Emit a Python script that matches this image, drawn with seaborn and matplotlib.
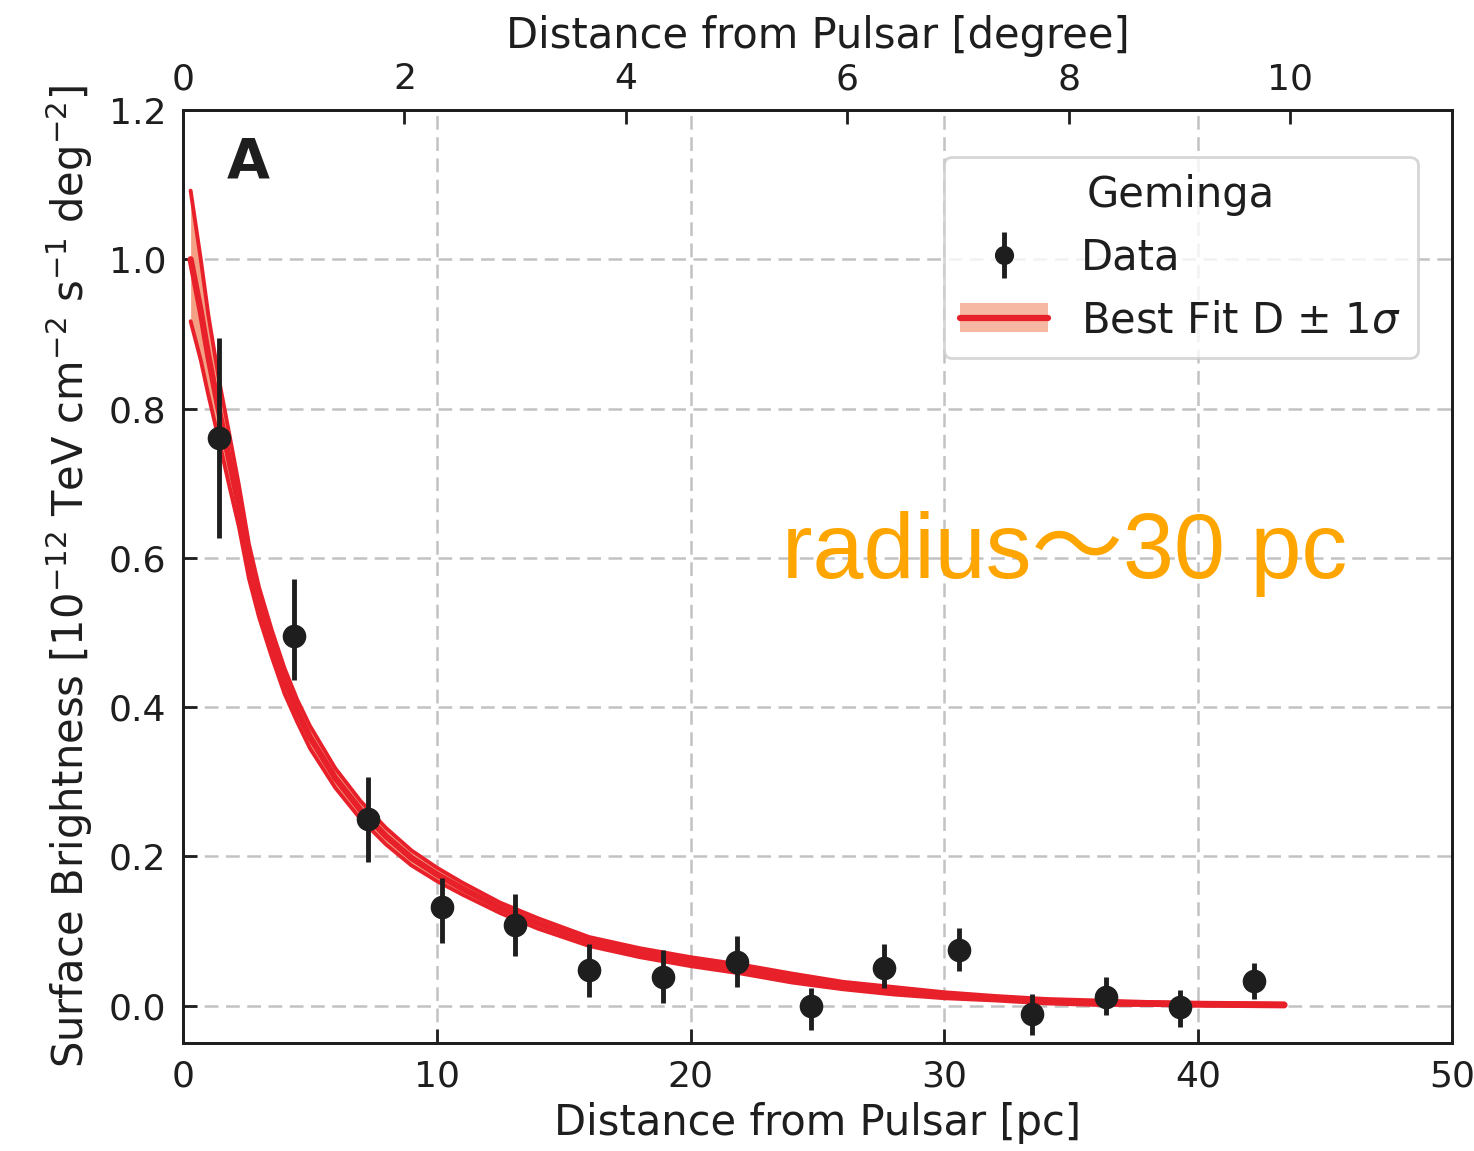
import numpy as np
import pandas as pd
import matplotlib
matplotlib.use("Agg")
import matplotlib.pyplot as plt
import seaborn as sns
from matplotlib.patches import Patch
from matplotlib.lines import Line2D
from matplotlib.legend_handler import HandlerTuple, HandlerErrorbar
from matplotlib.container import ErrorbarContainer

# ---------------- data ----------------
dist_pc = [1.43, 4.37, 7.28, 10.19, 13.08, 16.0, 18.9, 21.82, 24.73, 27.63,
           30.56, 33.47, 36.37, 39.28, 42.2]
brightness = [0.760, 0.495, 0.250, 0.132, 0.108, 0.048, 0.038, 0.058, 0.000,
              0.051, 0.075, -0.011, 0.012, -0.002, 0.033]
bar_top = [0.894, 0.571, 0.306, 0.171, 0.150, 0.082, 0.074, 0.093, 0.024,
           0.082, 0.104, 0.016, 0.038, 0.021, 0.057]
bar_bottom = [0.626, 0.436, 0.192, 0.084, 0.067, 0.011, 0.003, 0.025, -0.033,
              0.024, 0.046, -0.039, -0.012, -0.028, 0.009]

fit_x = [0.3, 0.7, 1.0, 1.4, 1.8, 2.2, 2.6, 3.0, 3.5, 4.0, 4.5, 5.0, 6.0, 7.0,
         8.0, 9.0, 10.0, 11.0, 12.5, 14.0, 16.0, 18.0, 20.0, 22.0, 24.0, 26.0,
         28.0, 30.0, 32.0, 34.0, 36.0, 38.0, 40.0, 43.4]
fit_y = [1.000, 0.930, 0.870, 0.800, 0.735, 0.670, 0.595, 0.540, 0.485, 0.435,
         0.395, 0.360, 0.305, 0.262, 0.227, 0.198, 0.176, 0.157, 0.131, 0.110,
         0.086, 0.071, 0.059, 0.049, 0.037, 0.027, 0.020, 0.014, 0.010, 0.006,
         0.004, 0.003, 0.002, 0.001]
fit_hi = [1.092, 1.000, 0.925, 0.842, 0.770, 0.698, 0.618, 0.560, 0.503, 0.452,
          0.410, 0.375, 0.318, 0.274, 0.238, 0.208, 0.185, 0.165, 0.138, 0.117,
          0.092, 0.077, 0.065, 0.055, 0.043, 0.032, 0.025, 0.018, 0.013, 0.009,
          0.007, 0.005, 0.004, 0.003]
fit_lo = [0.917, 0.865, 0.818, 0.760, 0.700, 0.642, 0.572, 0.520, 0.467, 0.418,
          0.380, 0.345, 0.292, 0.250, 0.216, 0.188, 0.167, 0.149, 0.124, 0.103,
          0.080, 0.065, 0.053, 0.043, 0.031, 0.022, 0.015, 0.010, 0.007, 0.003,
          0.001, 0.001, 0.000, -0.001]

deg_ticks = [0, 2, 4, 6, 8, 10]
pc_ticks = [0, 10, 20, 30, 40, 50]
y_ticks = [0.0, 0.2, 0.4, 0.6, 0.8, 1.0, 1.2]
pc_per_deg = 4.362

RED = "#e8202a"
SALMON = "#f4a085"
DARK = "#1e1e1e"

sns.set_theme(style="ticks")
plt.rcParams["font.family"] = ["DejaVu Sans"]

fig = plt.figure(figsize=(14.74, 11.51), dpi=100)
ax = fig.add_axes([183 / 1474, 1 - 1043 / 1151, (1452 - 183) / 1474, (1043 - 110) / 1151])

df_fit = pd.DataFrame({"x": fit_x, "y": fit_y, "lo": fit_lo, "hi": fit_hi})
ax.fill_between(df_fit["x"], df_fit["lo"], df_fit["hi"], color=SALMON, lw=0, zorder=2)
sns.lineplot(data=df_fit, x="x", y="hi", ax=ax, color=RED, lw=2.8, zorder=3)
sns.lineplot(data=df_fit, x="x", y="lo", ax=ax, color=RED, lw=2.8, zorder=3)
sns.lineplot(data=df_fit, x="x", y="y", ax=ax, color=RED, lw=4.5, zorder=4)

b = np.array(brightness)
yerr = [b - np.array(bar_bottom), np.array(bar_top) - b]
data_handle = ax.errorbar(dist_pc, brightness, yerr=yerr, fmt="o", color=DARK, ms=16,
                          elinewidth=3.5, capsize=0, zorder=5)

ax.set_xlim(0, 50)
ax.set_ylim(-0.05, 1.2)
ax.set_xticks(pc_ticks)
ax.set_yticks(y_ticks)
ax.set_yticklabels([f"{v:.1f}" for v in y_ticks])
ax.grid(True, ls=(0, (5.5, 3)), color="#c2c2c2", lw=1.8)
ax.set_axisbelow(True)
ax.tick_params(direction="in", length=10, width=2, labelsize=26, pad=12,
               colors=DARK, top=False, right=False)
for s in ax.spines.values():
    s.set_linewidth(2)
    s.set_color(DARK)
    s.set_visible(True)

ax.set_xlabel("Distance from Pulsar [pc]", fontsize=30, labelpad=6, color=DARK)
ax.set_ylabel(r"Surface Brightness [10$^{-12}$ TeV cm$^{-2}$ s$^{-1}$ deg$^{-2}$]",
              fontsize=30, labelpad=10, color=DARK)

ax2 = ax.twiny()
ax2.set_xlim(0, 50 / pc_per_deg)
ax2.set_xticks(deg_ticks)
ax2.tick_params(direction="in", length=10, width=2, labelsize=26, pad=10,
                colors=DARK)
ax2.grid(False)
ax2.set_xlabel("Distance from Pulsar [degree]", fontsize=30, labelpad=10, color=DARK)
for s in ax2.spines.values():
    s.set_linewidth(2)
    s.set_color(DARK)

ax.text(2.56, 1.13, "A", fontsize=40, fontweight="bold", ha="center", va="center",
        color=DARK)
ax.text(23.6, 0.573, "radius～30 pc", fontsize=66, color="#FFA500", ha="left",
        va="baseline", family=["Liberation Sans", "Noto Sans CJK SC"])

fit_handle = (Patch(facecolor=SALMON, edgecolor="none", alpha=0.75),
              Line2D([], [], color=RED, lw=4.5))
leg = ax.legend([data_handle, fit_handle], ["Data", r"Best Fit D $\pm$ 1$\sigma$"],
                title="Geminga", loc="upper right",
                bbox_to_anchor=(0.973, 0.9496), borderaxespad=0,
                fontsize=30, title_fontsize=30, frameon=True, fancybox=True,
                handlelength=2.1, handletextpad=0.8, labelspacing=0.5,
                borderpad=0.4, markerscale=0.8,
                handler_map={tuple: HandlerTuple(ndivide=1, pad=0),
                             ErrorbarContainer: HandlerErrorbar(yerr_size=0.55)})
leg.get_frame().set_edgecolor("#cccccc")
leg.get_frame().set_linewidth(2)
for t in leg.get_texts():
    t.set_color(DARK)
leg.get_title().set_color(DARK)

fig.savefig("out.png", dpi=100)
